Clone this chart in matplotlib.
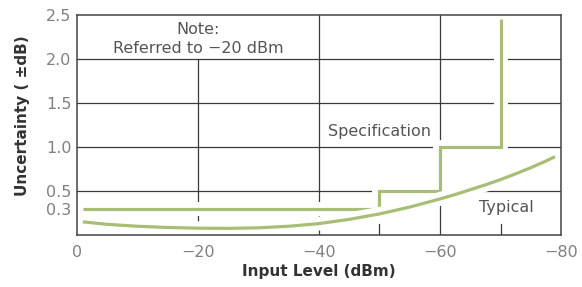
import numpy as np
import matplotlib
matplotlib.use('Agg')
import matplotlib.pyplot as plt
import matplotlib.patheffects as pe

plt.rcParams['font.family'] = ['DejaVu Sans']

# spec limit (stepped) and typical curve
spec_x = [-1, -50, -50, -60, -60, -70, -70]
spec_y = [0.3, 0.3, 0.5, 0.5, 1.0, 1.0, 2.45]

typ_x = [-1, -5, -10, -15, -20, -25, -30, -35, -40, -45, -50, -55, -60,
         -62.5, -65, -67.5, -70, -72.5, -75, -77.5, -79]
typ_y = [0.15, 0.122, 0.10, 0.086, 0.078, 0.076, 0.082, 0.10, 0.13, 0.178, 0.24, 0.318, 0.41,
         0.46, 0.515, 0.57, 0.63, 0.695, 0.765, 0.84, 0.89]

x_ticks = [0, -20, -40, -60, -80]
x_labels = ['0', '\u221220', '\u221240', '\u221260', '\u221280']
y_ticks = [0.3, 0.5, 1.0, 1.5, 2.0, 2.5]
y_labels = ['0.3', '0.5', '1.0', '1.5', '2.0', '2.5']
grid_y = [0.5, 1.0, 1.5, 2.0]
grid_x = [-20, -40, -60]
small_ticks = [-50, -70]

green = '#a8bd76'
gridc = '#3a3a3a'
tickc = '#808080'
textc = '#555555'

fig = plt.figure(figsize=(5.82, 2.87), dpi=100)
ax = fig.add_axes([0.132, 0.181, 0.832, 0.767])

for g in grid_y:
    ax.axhline(g, color=gridc, lw=0.9, zorder=1)
for g in grid_x:
    top = 2.0 / 2.5 if g == -20 else 1.0
    ax.axvline(g, ymax=top, color=gridc, lw=0.9, zorder=1)
for t in small_ticks:
    ax.plot([t, t], [0, 0.13], color=gridc, lw=0.9, zorder=1)

stroke = [pe.Stroke(linewidth=10, foreground='white'), pe.Normal()]
ax.plot(spec_x, spec_y, color=green, lw=2.3, solid_capstyle='butt',
        solid_joinstyle='miter', zorder=2, path_effects=stroke)
ax.plot(typ_x, typ_y, color=green, lw=2.3, solid_capstyle='butt',
        solid_joinstyle='round', zorder=2, path_effects=stroke)

ax.set_xlim(0, -80)
ax.set_ylim(0, 2.5)
ax.set_xticks(x_ticks)
ax.set_xticklabels(x_labels)
ax.set_yticks(y_ticks)
ax.set_yticklabels(y_labels)
ax.tick_params(axis='both', length=0, labelsize=11.5, labelcolor=tickc)
ax.tick_params(axis='x', pad=7)
ax.tick_params(axis='y', pad=4)

for s in ax.spines.values():
    s.set_color('#444444')
    s.set_linewidth(1.1)

ax.text(-20, 2.34, 'Note:', ha='center', va='center', fontsize=11.5, color=textc)
ax.text(-20, 2.12, 'Referred to \u221220 dBm', ha='center', va='center', fontsize=11.5, color=textc)
ax.text(-50, 1.18, 'Specification', ha='center', va='center', fontsize=11.5, color=textc)
ax.text(-71, 0.31, 'Typical', ha='center', va='center', fontsize=11.5, color=textc)

ax.set_xlabel('Input Level (dBm)', fontsize=11, fontweight='bold', color='#333333')
ax.set_ylabel('Uncertainty ( \u00b1dB)', fontsize=11, fontweight='bold', color='#333333')
ax.xaxis.set_label_coords(0.5, -0.164)
ax.yaxis.set_label_coords(-0.112, 0.54)
ax.xaxis.label.set_va('center')
ax.yaxis.label.set_va('center')

fig.savefig('out.png', dpi=100)
